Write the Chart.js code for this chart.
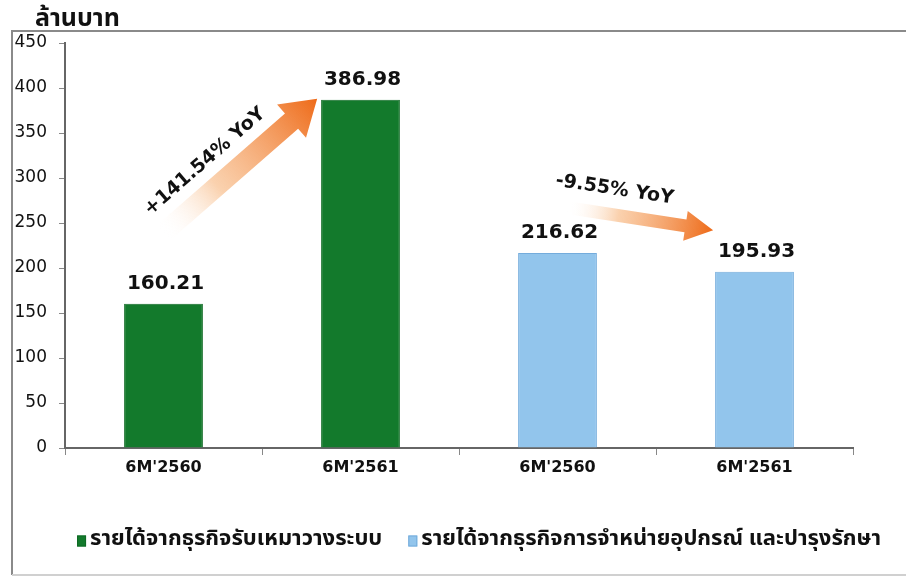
<!DOCTYPE html>
<html>
<head>
<meta charset="utf-8">
<script src="https://cdn.jsdelivr.net/npm/chart.js@4/dist/chart.umd.min.js"></script>
<style>
  html, body { margin: 0; padding: 0; background: #fff; }
  #wrap { width: 906px; height: 577px; }
</style>
</head>
<body>
<div id="wrap"><canvas id="revChart" width="906" height="577"></canvas></div>
<script>
const categories = ["6M'2560", "6M'2561", "6M'2560", "6M'2561"];
const contractValues = [160.21, 386.98, null, null];
const salesValues = [null, null, 216.62, 195.93];
const seriesNames = [
  "รายได้จากธุรกิจรับเหมาวางระบบ",
  "รายได้จากธุรกิจการจำหน่ายอุปกรณ์ และปารุงรักษา"
];
const yTicks = [0, 50, 100, 150, 200, 250, 300, 350, 400, 450];
const unitLabel = "ล้านบาท";

// growth arrows, in [category index, value] units
const growthText = ["+141.54% YoY", "-9.55% YoY"];
const arrowFrom = [[0.0, 239], [2.05, 267]];
const arrowTo = [[0.78, 388], [2.79, 242]];
const growthTextAt = [[0.21, 318], [2.29, 287]];

const thaiFont = "'Noto Sans Thai', 'Noto Sans', Tahoma, sans-serif";
const numFont = "'DejaVu Sans', Verdana, sans-serif";

function drawArrow(ctx, p0, p1, w, hw, hl) {
  const dx = p1.x - p0.x, dy = p1.y - p0.y;
  const len = Math.hypot(dx, dy);
  const ux = dx / len, uy = dy / len;
  const nx = -uy, ny = ux;
  const bx = p1.x - ux * hl, by = p1.y - uy * hl;
  const grad = ctx.createLinearGradient(p0.x, p0.y, p1.x, p1.y);
  grad.addColorStop(0, "rgba(255,255,255,0)");
  grad.addColorStop(0.35, "rgba(248,190,140,0.7)");
  grad.addColorStop(1, "#ee6a18");
  ctx.beginPath();
  ctx.moveTo(p0.x + nx * w / 2, p0.y + ny * w / 2);
  ctx.lineTo(bx + nx * w / 2, by + ny * w / 2);
  ctx.lineTo(bx + nx * hw / 2, by + ny * hw / 2);
  ctx.lineTo(p1.x, p1.y);
  ctx.lineTo(bx - nx * hw / 2, by - ny * hw / 2);
  ctx.lineTo(bx - nx * w / 2, by - ny * w / 2);
  ctx.lineTo(p0.x - nx * w / 2, p0.y - ny * w / 2);
  ctx.closePath();
  ctx.fillStyle = grad;
  ctx.fill();
}

const extras = {
  id: "extras",
  beforeDraw(chart) {
    const ctx = chart.ctx;
    ctx.save();
    // frame: top, left and bottom edges only
    ctx.lineWidth = 2;
    ctx.strokeStyle = "#8a8a8a";
    ctx.beginPath();
    ctx.moveTo(906, 31); ctx.lineTo(12, 31); ctx.lineTo(12, 575);
    ctx.stroke();
    ctx.strokeStyle = "#d0d0d0";
    ctx.beginPath();
    ctx.moveTo(12, 575); ctx.lineTo(906, 575);
    ctx.stroke();
    ctx.fillStyle = "#111";
    ctx.font = "bold 25px " + thaiFont;
    ctx.textBaseline = "middle";
    ctx.fillText(unitLabel, 35, 21);
    ctx.restore();
  },
  afterDatasetsDraw(chart) {
    const ctx = chart.ctx;
    const xs = chart.scales.x, ys = chart.scales.y;
    const px = (p) => ({
      x: xs.getPixelForValue(0) + p[0] * (xs.getPixelForValue(1) - xs.getPixelForValue(0)),
      y: ys.getPixelForValue(p[1])
    });
    ctx.save();
    // value labels
    ctx.font = "bold 20px " + numFont;
    ctx.fillStyle = "#111";
    ctx.textAlign = "center";
    ctx.textBaseline = "alphabetic";
    chart.data.datasets.forEach((ds, i) => {
      chart.getDatasetMeta(i).data.forEach((bar, j) => {
        if (ds.data[j] == null) return;
        ctx.fillText(ds.data[j].toFixed(2), bar.x + 2, bar.y - 15);
      });
    });
    // growth arrows
    drawArrow(ctx, px(arrowFrom[0]), px(arrowTo[0]), 20, 44, 34);
    drawArrow(ctx, px(arrowFrom[1]), px(arrowTo[1]), 13, 30, 28);
    growthText.forEach((t, i) => {
      const a = px(arrowFrom[i]), b = px(arrowTo[i]);
      const ang = Math.atan2(b.y - a.y, b.x - a.x);
      const c = px(growthTextAt[i]);
      ctx.save();
      ctx.translate(c.x, c.y);
      ctx.rotate(ang);
      ctx.font = "bold 19px " + numFont;
      ctx.textBaseline = "middle";
      ctx.lineWidth = 4;
      ctx.strokeStyle = "rgba(255,255,255,0.9)";
      ctx.strokeText(t, 0, 0);
      ctx.fillStyle = "#111";
      ctx.fillText(t, 0, 0);
      ctx.restore();
    });
    ctx.restore();
  },
  afterDraw(chart) {
    // legend row, centred under the plot like the original
    const ctx = chart.ctx;
    ctx.save();
    ctx.font = "bold 22px " + thaiFont;
    ctx.textBaseline = "middle";
    const gapBox = 4, gapItem = 26, bw = 9, bh = 11;
    const items = chart.data.datasets.map((ds) => ({
      text: ds.label, fill: ds.backgroundColor, stroke: ds.borderColor,
      w: bw + gapBox + ctx.measureText(ds.label).width
    }));
    const total = items.reduce((s, it) => s + it.w, 0) + gapItem * (items.length - 1);
    let x = 479 - total / 2;
    const y = 541;
    items.forEach((it) => {
      ctx.fillStyle = it.fill;
      ctx.fillRect(x, y - bh / 2, bw, bh);
      ctx.strokeStyle = it.stroke;
      ctx.lineWidth = 1;
      ctx.strokeRect(x + 0.5, y - bh / 2 + 0.5, bw - 1, bh - 1);
      ctx.fillStyle = "#111";
      ctx.fillText(it.text, x + bw + gapBox, y);
      x += it.w + gapItem;
    });
    ctx.restore();
  }
};

new Chart(document.getElementById("revChart"), {
  type: "bar",
  data: {
    labels: categories,
    datasets: [
      {
        label: seriesNames[0],
        data: contractValues,
        backgroundColor: "#137a2c",
        borderColor: "#0f6a24",
        borderWidth: 1,
        barPercentage: 0.4,
        categoryPercentage: 1
      },
      {
        label: seriesNames[1],
        data: salesValues,
        backgroundColor: "#92c5ec",
        borderColor: "#74acdc",
        borderWidth: 1,
        barPercentage: 0.4,
        categoryPercentage: 1
      }
    ]
  },
  options: {
    responsive: false,
    animation: false,
    layout: { padding: { top: 43, left: 12, right: 53, bottom: 99 } },
    plugins: {
      tooltip: { enabled: false },
      legend: { display: false }
    },
    datasets: { bar: { grouped: false } },
    scales: {
      x: {
        grid: { display: true, drawOnChartArea: false, drawTicks: true, tickLength: 7, color: "#888" },
        border: { color: "#666", width: 2 },
        ticks: { color: "#111", padding: 3, font: { family: numFont, size: 16, weight: "bold" } },
        afterFit: (s) => { s.height = 30; }
      },
      y: {
        min: 0,
        max: 450,
        afterBuildTicks: (s) => { s.ticks = yTicks.map((v) => ({ value: v })); },
        grid: { display: true, drawOnChartArea: false, drawTicks: true, tickLength: 6, color: "#888" },
        border: { color: "#666", width: 2 },
        ticks: { color: "#111", padding: 12, font: { family: numFont, size: 17 } },
        afterFit: (s) => { s.width = 53; }
      }
    }
  },
  plugins: [extras]
});
</script>
</body>
</html>
